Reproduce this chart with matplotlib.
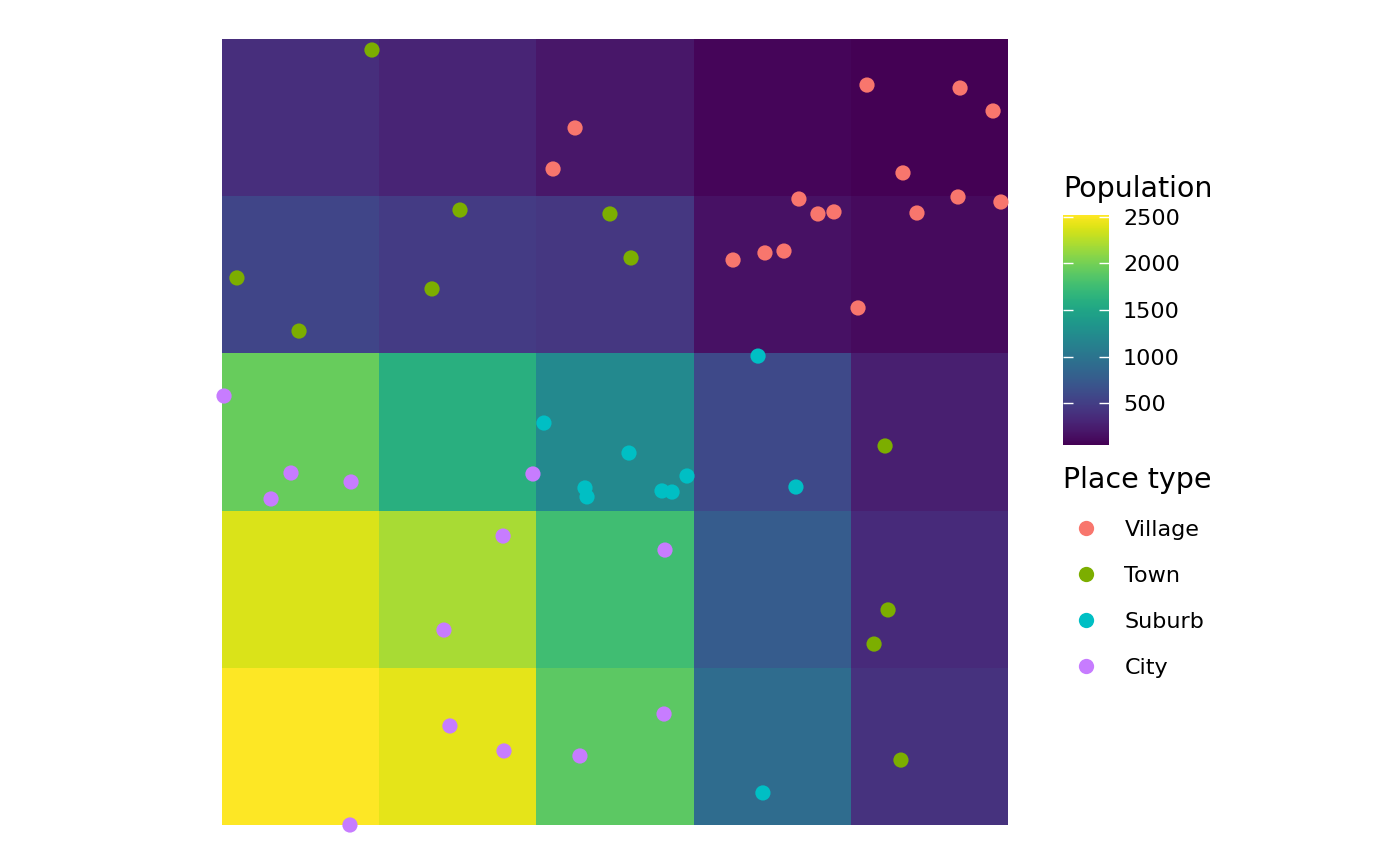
import numpy as np
import matplotlib.pyplot as plt
from matplotlib.lines import Line2D

# population per grid cell, rows listed from top to bottom
population = [
    [380, 300, 200, 90, 55],
    [560, 480, 440, 170, 120],
    [1950, 1610, 1210, 600, 260],
    [2380, 2200, 1760, 760, 350],
    [2518, 2420, 1900, 920, 410],
]

place_types = ['Village', 'Town', 'Suburb', 'City']
place_colors = ['#F8766D', '#7CAE00', '#00BFC4', '#C77CFF']

village_x = [4.103, 4.695, 4.905, 2.246, 2.106, 4.332, 3.670, 3.791, 3.893, 4.421, 4.682, 4.955, 3.251, 3.454, 3.575, 4.046]
village_y = [4.707, 4.688, 4.542, 4.434, 4.173, 4.148, 3.982, 3.887, 3.900, 3.893, 3.995, 3.963, 3.594, 3.639, 3.651, 3.289]

town_x = [0.954, 1.514, 2.468, 2.602, 0.095, 1.336, 0.490, 4.218, 4.237, 4.148, 4.319]
town_y = [4.930, 3.912, 3.887, 3.607, 3.480, 3.410, 3.142, 2.411, 1.368, 1.151, 0.413]

suburb_x = [3.410, 2.048, 2.589, 2.958, 2.309, 2.322, 2.799, 2.863, 3.651, 3.441]
suburb_y = [2.983, 2.557, 2.366, 2.220, 2.144, 2.087, 2.125, 2.118, 2.150, 0.204]

city_x = [0.013, 0.439, 0.312, 0.821, 1.978, 1.788, 2.818, 1.412, 1.450, 1.794, 2.277, 2.812, 0.814]
city_y = [2.729, 2.239, 2.074, 2.182, 2.233, 1.838, 1.749, 1.240, 0.630, 0.471, 0.439, 0.706, 0.000]

points = [(village_x, village_y), (town_x, town_y), (suburb_x, suburb_y), (city_x, city_y)]

W, H = 1400, 865
fig = plt.figure(figsize=(W / 100, H / 100), dpi=100)
ax = fig.add_axes([222 / W, 1 - 825 / H, 786 / W, 786 / H])

grid = np.array(population[::-1], dtype=float)
edges = np.arange(grid.shape[1] + 1)
mesh = ax.pcolormesh(edges, np.arange(grid.shape[0] + 1), grid, cmap='viridis',
                     vmin=grid.min(), vmax=grid.max(), shading='flat')

for (px, py), col in zip(points, place_colors):
    ax.scatter(px, py, s=120, color=col, edgecolors='none', clip_on=False, zorder=3)

ax.set_xlim(0, 5)
ax.set_ylim(0, 5)
ax.set_aspect('equal')
ax.axis('off')

# colour bar
cax = fig.add_axes([1063 / W, 1 - 445 / H, 46 / W, 230 / H])
cb = fig.colorbar(mesh, cax=cax, ticks=[500, 1000, 1500, 2000, 2500])
cb.outline.set_visible(False)
cb.minorticks_off()
cax.tick_params(direction='in', length=7, width=1, color='white',
                left=True, right=True, labelleft=False, labelright=True,
                labelsize=16, pad=10)
fig.text(1063 / W, 1 - 197 / H, 'Population', fontsize=20.5, va='baseline', ha='left')

# point legend
handles = [Line2D([], [], linestyle='none', marker='o', markersize=11,
                  markerfacecolor=c, markeredgecolor='none') for c in place_colors]
leg = fig.legend(handles, place_types, title='Place type', loc='upper left',
                 bbox_to_anchor=(1063 / W, 1 - 466 / H), frameon=False,
                 fontsize=16, title_fontsize=20.5, alignment='left',
                 borderpad=0, borderaxespad=0, handlelength=2.07,
                 handletextpad=0.69, labelspacing=1.17)

fig.savefig('out.png', dpi=100)
